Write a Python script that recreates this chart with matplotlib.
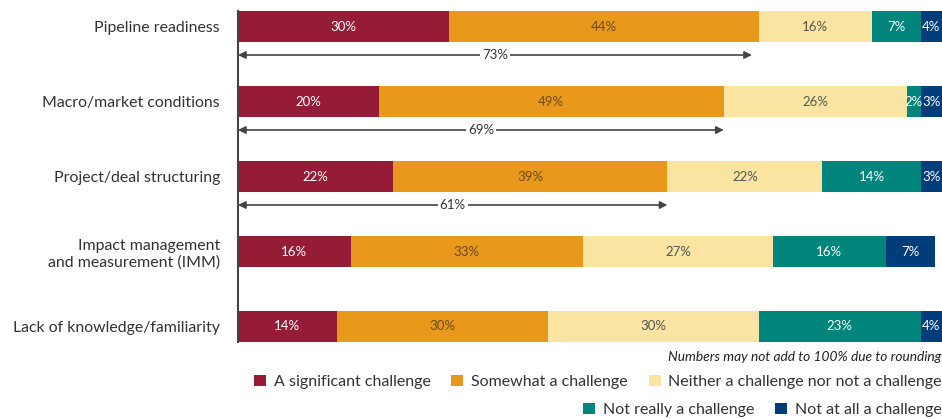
import matplotlib.pyplot as plt
from matplotlib.patches import Patch

plt.rcParams['font.family'] = ['Lato', 'DejaVu Sans']

categories = [
    "Pipeline readiness",
    "Macro/market conditions",
    "Project/deal structuring",
    "Impact management\nand measurement (IMM)",
    "Lack of knowledge/familiarity",
]
series_names = [
    "A significant challenge",
    "Somewhat a challenge",
    "Neither a challenge nor not a challenge",
    "Not really a challenge",
    "Not at all a challenge",
]
significant = [30, 20, 22, 16, 14]
somewhat = [44, 49, 39, 33, 30]
neither = [16, 26, 22, 27, 30]
not_really = [7, 2, 14, 16, 23]
not_at_all = [4, 3, 3, 7, 4]
combined = [73, 69, 61]  # significant + somewhat, first three rows

series = [significant, somewhat, neither, not_really, not_at_all]
colors = ["#961B36", "#E8991C", "#F9E4A2", "#00857C", "#003D7A"]
text_colors = ["#FFFFFF", "#6B4A1A", "#555555", "#FFFFFF", "#FFFFFF"]
XMAX = 100

fig = plt.figure(figsize=(9.42, 4.19), dpi=100)
W, H = 942, 419
ax = fig.add_axes([238 / W, 1 - 342 / H, 1 - 238 / W, 331 / H])

bar_h = 31 / 75
ys = list(range(len(categories)))
lefts = [0] * len(categories)
for vals, c, tc in zip(series, colors, text_colors):
    ax.barh(ys, vals, left=lefts, height=bar_h, color=c, linewidth=0)
    for y, v, l in zip(ys, vals, lefts):
        # centre the label in the visible part of the segment
        xc = (l + min(l + v, XMAX)) / 2
        ax.text(xc, y, f"{v}%", ha="center", va="center",
                color=tc, fontsize=9.5)
    lefts = [a + b for a, b in zip(lefts, vals)]

# span arrows showing the combined share of the two challenge categories
for y, v in zip(ys, combined):
    ya = y + 0.38
    ax.annotate("", xy=(0, ya), xytext=(v, ya),
                arrowprops=dict(arrowstyle="<|-|>", color="#444444", lw=1.2,
                                mutation_scale=11, shrinkA=0, shrinkB=0))
    ax.text(v / 2, ya, f"{v}%", ha="center", va="center", fontsize=9.5,
            color="#333333", bbox=dict(facecolor="white", edgecolor="none", pad=1.5))

ax.set_xlim(0, XMAX)
ax.set_ylim(len(categories) - 1 + bar_h / 2, -bar_h / 2)
for s in ["top", "right", "bottom"]:
    ax.spines[s].set_visible(False)
ax.spines["left"].set_color("#444444")
ax.spines["left"].set_linewidth(1.5)
ax.set_xticks([])
ax.set_yticks(ys)
ax.set_yticklabels(categories, fontsize=11.4, color="#333333")
ax.tick_params(axis="y", length=0, pad=13)
for t in ax.get_yticklabels():
    t.set_multialignment("right")

fig.text(1 - 1 / W, 1 - 357 / H, "Numbers may not add to 100% due to rounding",
         ha="right", va="center", fontsize=9.9, style="italic", color="#222222")

handles = [Patch(facecolor=c, edgecolor="none") for c in colors]
leg_kw = dict(frameon=False, fontsize=11.5, handlelength=0.75, handleheight=0.75,
              handletextpad=0.5, columnspacing=1.3, borderaxespad=0, borderpad=0,
              labelcolor="#333333")
fig.legend(handles[:3], series_names[:3], ncol=3, loc="center right",
           bbox_to_anchor=(1.0, 1 - 382 / H), **leg_kw)
fig.legend(handles[3:], series_names[3:], ncol=2, loc="center right",
           bbox_to_anchor=(1.0, 1 - 410 / H), **leg_kw)

fig.savefig("out.png", dpi=100)
